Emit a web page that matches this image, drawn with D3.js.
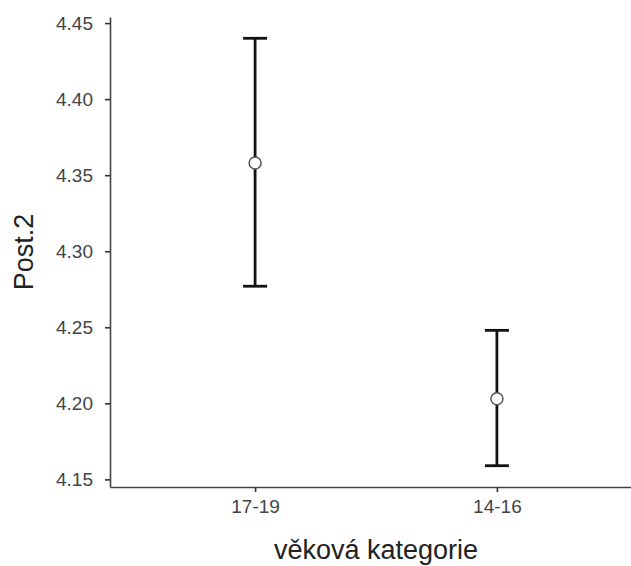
<!DOCTYPE html>
<html>
<head>
<meta charset="utf-8">
<script src="https://cdn.jsdelivr.net/npm/d3@7"></script>
<style>
  html, body { margin: 0; padding: 0; background: #fff; }
  svg { display: block; }
  .tick text { font-family: "Liberation Sans", Arial, Helvetica, sans-serif; }
</style>
</head>
<body>
<div id="chart"></div>
<script>
// Mean of Post.2 by age category with error bars
const categories = ["17-19", "14-16"];
const means = [4.358, 4.203];
const lower = [4.277, 4.159];
const upper = [4.440, 4.248];
const yTicks = [4.15, 4.20, 4.25, 4.30, 4.35, 4.40, 4.45];

const W = 631, H = 566;
const panelLeft = 110, panelRight = 642, panelTop = 17, panelBottom = 487;

const svg = d3.select("#chart").append("svg")
  .attr("width", W).attr("height", H);

const x = d3.scalePoint().domain(categories).range([panelLeft, panelRight]).padding(0.6);
const y = d3.scaleLinear().domain([4.145, 4.454]).range([panelBottom, panelTop]);

const font = '"Liberation Sans", Arial, Helvetica, sans-serif';

// y axis
const yAxis = svg.append("g")
  .attr("transform", `translate(${panelLeft},0)`)
  .call(d3.axisLeft(y).tickValues(yTicks).tickFormat(d3.format(".2f"))
    .tickSize(5).tickSizeOuter(0).tickPadding(12));
yAxis.select(".domain").attr("stroke", "#444").attr("stroke-width", 1.6);
yAxis.selectAll(".tick line").attr("stroke", "#333").attr("stroke-width", 1.6);
yAxis.selectAll(".tick text").attr("fill", "#444").style("font-size", "19px");

// x axis
const xAxis = svg.append("g")
  .attr("transform", `translate(0,${panelBottom})`)
  .call(d3.axisBottom(x).tickSize(5).tickSizeOuter(0).tickPadding(8));
xAxis.select(".domain").attr("stroke", "#444").attr("stroke-width", 1.6);
xAxis.selectAll(".tick line").attr("stroke", "#333").attr("stroke-width", 1.6);
xAxis.selectAll(".tick text").attr("fill", "#444").style("font-size", "19px");

// axis titles
svg.append("text")
  .attr("x", (panelLeft + panelRight) / 2).attr("y", 559)
  .attr("text-anchor", "middle")
  .style("font-family", font).style("font-size", "27px").attr("fill", "#222")
  .text("věková kategorie");

svg.append("text")
  .attr("transform", `translate(33,${(panelTop + panelBottom) / 2}) rotate(-90)`)
  .attr("text-anchor", "middle")
  .style("font-family", font).style("font-size", "27px").attr("fill", "#222")
  .text("Post.2");

// error bars
const capHalf = 12;
const bars = svg.append("g").selectAll("g").data(categories).join("g");
bars.append("line")
  .attr("x1", d => x(d)).attr("x2", d => x(d))
  .attr("y1", (d, i) => y(upper[i])).attr("y2", (d, i) => y(lower[i]))
  .attr("stroke", "#111").attr("stroke-width", 2.8);
bars.append("line")
  .attr("x1", d => x(d) - capHalf).attr("x2", d => x(d) + capHalf)
  .attr("y1", (d, i) => y(upper[i])).attr("y2", (d, i) => y(upper[i]))
  .attr("stroke", "#111").attr("stroke-width", 2.8);
bars.append("line")
  .attr("x1", d => x(d) - capHalf).attr("x2", d => x(d) + capHalf)
  .attr("y1", (d, i) => y(lower[i])).attr("y2", (d, i) => y(lower[i]))
  .attr("stroke", "#111").attr("stroke-width", 2.8);
bars.append("circle")
  .attr("cx", d => x(d)).attr("cy", (d, i) => y(means[i]))
  .attr("r", 6).attr("fill", "#fff")
  .attr("stroke", "#555").attr("stroke-width", 1.5);
</script>
</body>
</html>
